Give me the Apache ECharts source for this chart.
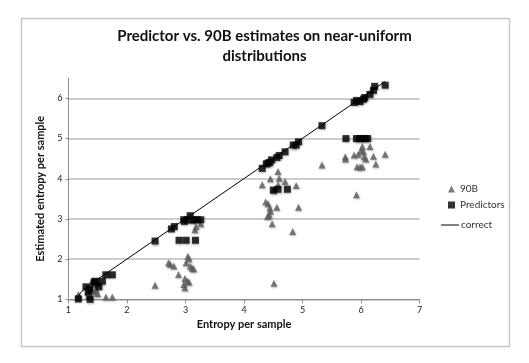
<!DOCTYPE html>
<html>
<head>
<meta charset="utf-8">
<script src="https://cdn.jsdelivr.net/npm/echarts@6/dist/echarts.min.js"></script>
<style>html,body{margin:0;padding:0;background:#fff;}#c{width:529px;height:363px;}</style>
</head>
<body>
<div id="c"></div>
<script>
const titleText = 'Predictor vs. 90B estimates on near-uniform\ndistributions';
const xName = 'Entropy per sample';
const yName = 'Estimated entropy per sample';
const xTicks = [1, 2, 3, 4, 5, 6, 7];
const yTicks = [1, 2, 3, 4, 5, 6];

const b90 = [
  [1.17,1.12],[1.17,1.06],[1.33,1.17],[1.39,1.28],[1.41,1.37],[1.44,1.18],[1.47,1.25],
  [1.50,1.14],[1.34,1.08],[1.64,1.06],[1.75,1.06],[1.41,1.47],[1.50,1.40],[1.37,1.10],
  [2.48,1.35],[2.71,1.91],[2.74,1.87],[2.80,1.83],[2.88,1.62],[2.97,1.37],[2.99,1.29],
  [2.99,1.52],[3.03,1.45],[3.06,1.43],[3.01,1.91],[3.04,2.07],[3.06,2.01],[3.08,1.83],
  [3.11,1.78],[3.14,1.76],[3.16,2.73],[3.18,2.81],[3.26,2.88],[3.11,2.96],
  [4.31,3.85],[4.45,4.00],[4.58,4.18],[4.60,4.01],[4.70,3.93],[4.89,3.83],[4.37,3.43],
  [4.41,3.38],[4.44,3.27],[4.45,3.19],[4.43,3.10],[4.40,3.06],[4.56,3.29],[4.93,3.29],
  [4.48,2.88],[4.83,2.69],[4.51,1.40],[4.51,3.72],[4.58,3.85],
  [5.33,4.34],[5.73,4.55],[5.73,4.49],[5.88,4.59],[5.95,4.61],[6.00,4.71],[6.02,4.80],
  [6.04,4.67],[6.05,4.55],[6.08,4.49],[5.93,4.30],[5.98,4.30],[6.02,4.30],[6.15,4.80],
  [6.21,4.56],[6.25,4.37],[6.41,4.61],[5.92,3.60]
];

const predictors = [
  [1.17,1.01],[1.37,1.00],[1.30,1.31],[1.34,1.19],[1.36,1.25],[1.44,1.43],[1.52,1.31],
  [1.58,1.45],[1.64,1.61],[1.75,1.61],[1.47,1.45],
  [2.48,2.45],[2.76,2.75],[2.81,2.81],[2.89,2.47],[3.01,2.47],[3.17,2.47],
  [2.97,2.98],[3.03,2.98],[3.08,3.08],[3.14,2.98],[3.20,2.98],[3.26,2.98],[2.98,2.94],
  [4.31,4.26],[4.38,4.37],[4.44,4.41],[4.47,4.47],[4.41,4.39],[4.56,4.53],[4.60,4.58],
  [4.70,4.67],[4.84,4.84],[4.89,4.84],[4.93,4.92],[4.50,3.72],[4.58,3.74],[4.74,3.74],
  [5.33,5.32],[5.74,5.00],[5.92,5.00],[5.97,5.00],[6.02,5.00],[6.07,5.00],[6.11,5.00],
  [5.88,5.90],[5.92,5.95],[5.98,5.92],[6.04,5.98],[6.06,6.02],[6.15,6.10],[6.21,6.20],
  [6.23,6.30],[6.41,6.33]
];

const correct = [[1.17,1.08],[1.22,1.18],[1.30,1.30],[6.41,6.42]];

const font = 'Lato, "Open Sans", sans-serif';
const chart = echarts.init(document.getElementById('c'));
chart.setOption({
  animation: false,
  backgroundColor: '#fff',
  graphic: [{
    type: 'rect', left: 19, top: 16, shape: {x: 0, y: 0, width: 488, height: 328},
    style: {fill: 'none', stroke: '#c8c8c8', lineWidth: 1.5}, silent: true, z: -1
  }],
  title: {
    text: titleText, left: 'center', top: 21,
    textStyle: {fontFamily: font, fontWeight: 'bold', fontSize: 15, lineHeight: 20, color: '#111'}
  },
  legend: [{
    orient: 'vertical', left: 443, top: 179, itemWidth: 7, itemHeight: 7, itemGap: 6,
    textStyle: {fontFamily: font, fontSize: 10, color: '#333'},
    data: [{name: '90B', icon: 'triangle'}, {name: 'Predictors', icon: 'rect'}]
  }, {
    orient: 'vertical', left: 436, top: 215, itemWidth: 18, itemHeight: 1, itemGap: 6,
    textStyle: {fontFamily: font, fontSize: 10, color: '#333', padding: [0, 0, 0, -3]},
    data: [{name: 'correct', icon: 'rect'}]
  }],
  grid: {left: 68.4, right: 109.3, top: 78.3, bottom: 63.7, containLabel: false},
  xAxis: {
    type: 'value', min: 1, max: 7, interval: 1,
    name: xName, nameLocation: 'middle', nameGap: 20,
    nameTextStyle: {fontFamily: font, fontWeight: 'bold', fontSize: 11, color: '#111'},
    axisLine: {show: true, lineStyle: {color: '#8c8c8c', width: 1}},
    axisTick: {show: true, length: 4, lineStyle: {color: '#8c8c8c'}},
    axisLabel: {fontFamily: font, fontSize: 9, color: '#222', margin: 6,
      formatter: v => xTicks.includes(v) ? String(v) : ''},
    splitLine: {show: false}
  },
  yAxis: {
    type: 'value', min: 1, max: 6.5, interval: 1,
    name: yName, nameLocation: 'middle', nameGap: 22,
    nameTextStyle: {fontFamily: font, fontWeight: 'bold', fontSize: 11, color: '#111'},
    axisLine: {show: true, lineStyle: {color: '#8c8c8c', width: 1}},
    axisTick: {show: true, length: 3, lineStyle: {color: '#8c8c8c'}},
    axisLabel: {fontFamily: font, fontSize: 9, color: '#222', margin: 6, showMaxLabel: false,
      formatter: v => yTicks.includes(v) ? String(v) : ''},
    splitLine: {show: true, showMaxLine: false, lineStyle: {color: '#bdbdbd', width: 1.5}}
  },
  series: [
    {
      name: '90B', type: 'scatter', symbol: 'triangle', symbolSize: 7, data: b90, z: 2,
      itemStyle: {color: '#5e5e5e', shadowBlur: 2, shadowColor: 'rgba(0,0,0,0.35)', shadowOffsetX: 0.5, shadowOffsetY: 1}
    },
    {
      name: 'Predictors', type: 'scatter', symbol: 'rect', symbolSize: 7, data: predictors, z: 3,
      itemStyle: {color: '#000', shadowBlur: 2, shadowColor: 'rgba(0,0,0,0.35)', shadowOffsetX: 0.5, shadowOffsetY: 1}
    },
    {
      name: 'correct', type: 'line', data: correct, symbol: 'none', smooth: false, z: 4,
      lineStyle: {color: '#000', width: 1}, itemStyle: {color: '#000'}
    }
  ]
});
</script>
</body>
</html>
